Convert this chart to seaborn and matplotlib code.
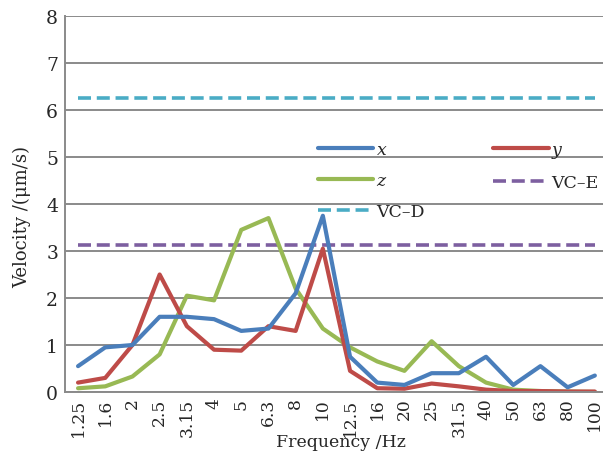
import matplotlib
matplotlib.use("Agg")
import matplotlib.pyplot as plt
import seaborn as sns
import pandas as pd
import numpy as np

freqs = ["1.25", "1.6", "2", "2.5", "3.15", "4", "5", "6.3", "8", "10",
         "12.5", "16", "20", "25", "31.5", "40", "50", "63", "80", "100"]
vel_x = [0.55, 0.95, 1.0, 1.6, 1.6, 1.55, 1.3, 1.35, 2.1, 3.75,
         0.75, 0.2, 0.15, 0.4, 0.4, 0.75, 0.15, 0.55, 0.1, 0.35]
vel_y = [0.2, 0.3, 1.0, 2.5, 1.4, 0.9, 0.88, 1.4, 1.3, 3.05,
         0.45, 0.08, 0.07, 0.18, 0.12, 0.05, 0.02, 0.02, 0.01, 0.01]
vel_z = [0.08, 0.12, 0.33, 0.8, 2.05, 1.95, 3.45, 3.7, 2.2, 1.35,
         0.95, 0.65, 0.45, 1.08, 0.55, 0.2, 0.05, 0.02, 0.01, 0.0]
vc_d = 6.25
vc_e = 3.12

sns.set_theme(style="white")
plt.rcParams['font.family'] = ['DejaVu Serif']
plt.rcParams['mathtext.fontset'] = 'dejavuserif'

fig = plt.figure(figsize=(6.03, 4.52), dpi=100)
ax = fig.add_axes([65/603, 1-393/452, 1-65/603, (393-17)/452])

idx = np.arange(len(freqs))
df = pd.DataFrame({"i": np.tile(idx, 5),
                   "v": vel_x + vel_y + vel_z + [vc_e]*len(freqs) + [vc_d]*len(freqs),
                   "s": ["x"]*20 + ["y"]*20 + ["z"]*20 + ["VC-E"]*20 + ["VC-D"]*20})

colors = {"x": "#4A7EBB", "y": "#BE4B48", "z": "#98B954", "VC-E": "#7D5FA0", "VC-D": "#4AACC5"}
labels = {"x": "$x$", "y": "$y$", "z": "$z$", "VC-E": "VC\u2013E", "VC-D": "VC\u2013D"}
handles = {}
for s in ["VC-D", "VC-E", "z", "y", "x"]:
    sub = df[df.s == s]
    dashed = s.startswith("VC")
    sns.lineplot(data=sub, x="i", y="v", ax=ax, color=colors[s],
                 lw=2.6 if dashed else 3.0, label=labels[s], legend=False)
    line = ax.lines[-1]
    if dashed:
        line.set_dashes((3.6, 1.6))
    handles[s] = line

ax.set_xlim(-0.48, 19.3)
ax.set_ylim(0, 8)
ax.set_yticks(range(0, 9))
ax.set_xticks(idx)
ax.set_xticklabels(freqs, rotation=90, fontsize=12.3)
ax.set_xticks(idx[:-1] + 0.5, minor=True)
ax.tick_params(axis='x', which='major', length=0, pad=4)
ax.tick_params(axis='x', which='minor', direction='in', length=4, width=1, color='#808080')
ax.tick_params(axis='y', labelsize=13.5, length=0, pad=5)
ax.yaxis.grid(True, color='#8a8a8a', lw=1.4)
ax.set_axisbelow(True)
for sp in ["right", "top"]:
    ax.spines[sp].set_visible(False)
for sp in ["left", "bottom"]:
    ax.spines[sp].set_color('#8a8a8a')
    ax.spines[sp].set_linewidth(1.4)

ax.set_xlabel("Frequency /Hz", fontsize=12.5)
ax.set_ylabel("Velocity /(\u03bcm/s)", fontsize=13)
ax.xaxis.set_label_coords((341-65)/538, (393-443)/376)
ax.yaxis.set_label_coords((22-65)/538, (393-217)/376)
ax.xaxis.label.set_va('center')
ax.yaxis.label.set_va('center')

order = ["x", "z", "VC-D", "y", "VC-E"]
ax.legend([handles[k] for k in order], [labels[k] for k in order], ncol=2,
          loc='upper left', bbox_to_anchor=(0.47, 0.668), frameon=False,
          borderpad=0, borderaxespad=0, handlelength=3.2, handletextpad=0.15,
          labelspacing=0.8, columnspacing=3.95, fontsize=12.5)

fig.savefig("out.png", dpi=100)
